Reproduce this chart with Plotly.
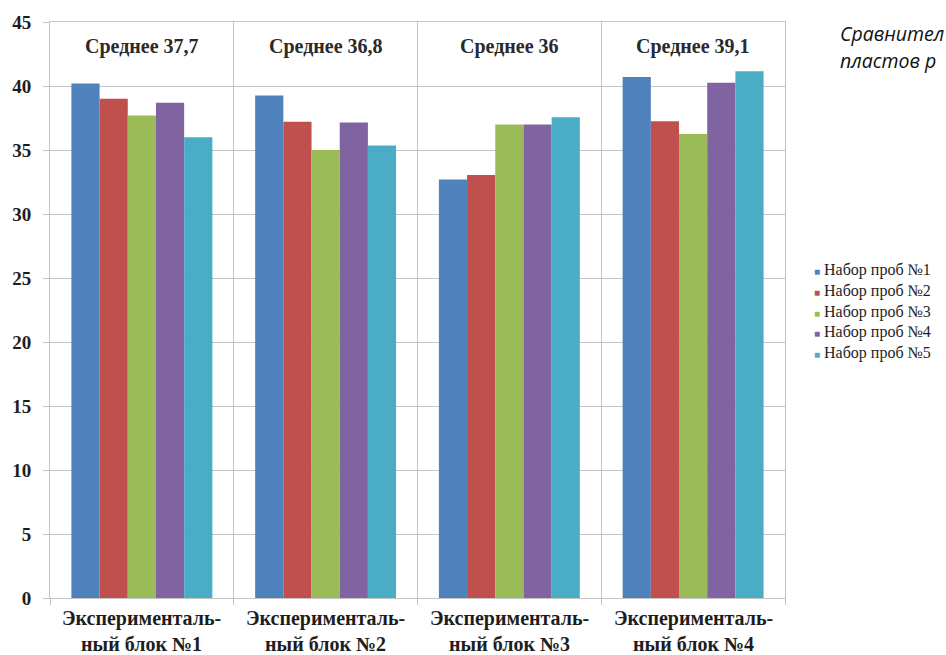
import plotly.graph_objects as go

# Experimental blocks (category axis), two-line labels
blocks = [
    "Эксперименталь-\nный блок №1",
    "Эксперименталь-\nный блок №2",
    "Эксперименталь-\nный блок №3",
    "Эксперименталь-\nный блок №4",
]

# Sample sets (series)
series_names = ["Набор проб №1", "Набор проб №2", "Набор проб №3", "Набор проб №4", "Набор проб №5"]
set1 = [40.2, 39.25, 32.7, 40.7]
set2 = [39.0, 37.2, 33.05, 37.25]
set3 = [37.7, 35.0, 37.0, 36.25]
set4 = [38.7, 37.15, 37.0, 40.25]
set5 = [36.0, 35.35, 37.55, 41.15]

# Block averages shown above each group
block_means = ["37,7", "36,8", "36", "39,1"]

y_ticks = [0, 5, 10, 15, 20, 25, 30, 35, 40, 45]

# Caption lines at the top right, as far as they fit on the page
caption_lines = ["Сравнител", "пластов р"]

colors = ["#4F81BD", "#C0504D", "#9BBB59", "#8064A2", "#4BACC6"]

# Page geometry
W, H = 946, 655
ML, MR, MT, MB = 50, 161, 18, 57
PW, PH = W - ML - MR, H - MT - MB


def px_x(px):
    return (px - ML) / PW


def px_y(py):
    return (H - MB - py) / PH


serif = "Liberation Serif"
text_col = "#1e1e1e"
grid_col = "#c4c4c4"

fig = go.Figure()
for name, vals, col in zip(series_names, [set1, set2, set3, set4, set5], colors):
    fig.add_trace(go.Bar(
        x=blocks, y=vals, name=name,
        marker=dict(color=col, line=dict(width=0)),
        showlegend=False,
    ))

annotations = []

# "Среднее" labels inside the top band of each block
for b, m in zip(blocks, block_means):
    annotations.append(dict(
        x=b, xref="x", y=px_y(43), yref="paper",
        text=f"<b>Среднее {m}</b>", showarrow=False,
        xanchor="center", yanchor="middle",
        font=dict(family=serif, size=20, color="#2a2a2a"),
    ))

# Category labels under the axis (two lines each)
for b in blocks:
    line1, line2 = b.split("\n")
    for txt, py in ((line1, 619), (line2, 644)):
        annotations.append(dict(
            x=b, xref="x", y=px_y(py), yref="paper",
            text=f"<b>{txt}</b>", showarrow=False,
            xanchor="center", yanchor="middle",
            font=dict(family=serif, size=20, color=text_col),
        ))

# Legend on the right
for i, (name, col) in enumerate(zip(series_names, colors)):
    annotations.append(dict(
        x=px_x(812), xref="paper", y=px_y(268 + i * 20.8), yref="paper",
        text=f"<span style='color:{col};font-size:10px'>■</span> {name}",
        showarrow=False, xanchor="left", yanchor="middle",
        font=dict(family=serif, size=16, color=text_col),
    ))

# Caption at the top right
for txt, py in zip(caption_lines, (30, 57)):
    annotations.append(dict(
        x=px_x(838), xref="paper", y=px_y(py), yref="paper",
        text=f"<i>{txt}</i>", showarrow=False,
        xanchor="left", yanchor="middle",
        font=dict(family="Open Sans", size=19.5, color="#111111"),
    ))

fig.update_layout(
    width=W, height=H,
    margin=dict(l=ML, r=MR, t=MT, b=MB, pad=0),
    paper_bgcolor="white", plot_bgcolor="white",
    barmode="group", bargap=0.233, bargroupgap=0,
    annotations=annotations,
    xaxis=dict(
        type="category", range=[-0.5, 3.5],
        tickson="boundaries", ticks="outside", ticklen=6, tickcolor=grid_col,
        showticklabels=False,
        showgrid=True, gridcolor=grid_col, gridwidth=1,
        showline=True, linecolor=grid_col, linewidth=1, mirror=True,
    ),
    yaxis=dict(
        range=[0, 45], tickvals=y_ticks,
        ticks="outside", ticklen=6, tickcolor=grid_col,
        tickfont=dict(family=serif, size=19, color=text_col, weight="bold"),
        ticklabelstandoff=8,
        showgrid=True, gridcolor=grid_col, gridwidth=1,
        zeroline=False,
        showline=True, linecolor=grid_col, linewidth=1, mirror=True,
    ),
)

fig.write_html("out.html")
